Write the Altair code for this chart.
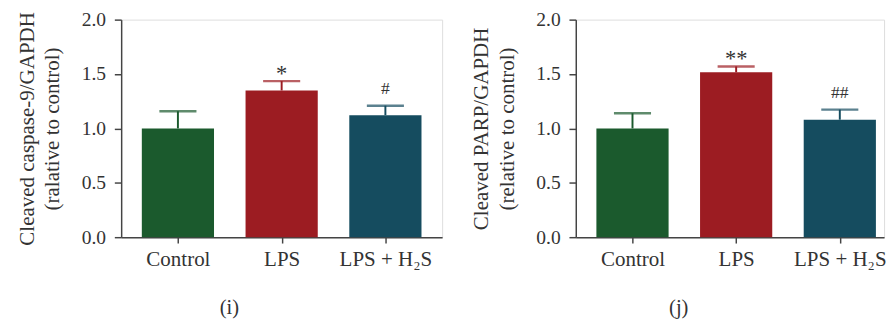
import json
import altair as alt
import pandas as pd

# ---- data ----
categories = ["Control", "LPS", "LPS + H₂S"]
bar_colors = ["#1b5a2d", "#9c1c22", "#154c5f"]

casp9_mean = [1.00, 1.349, 1.122]
casp9_err = [0.158, 0.086, 0.087]
casp9_sig = ["", "*", "#"]

parp_mean = [1.00, 1.516, 1.080]
parp_err = [0.140, 0.054, 0.093]
parp_sig = ["", "**", "##"]

y_ticks = [0.0, 0.5, 1.0, 1.5, 2.0]

FONT = "Liberation Serif"
TXT = "#333333"


def panel(means, errs, sigs, ytitle, caption, xmax, width):
    df = pd.DataFrame({
        "idx": list(range(len(categories))),
        "cat": categories,
        "mean": means,
        "upper": [m + e for m, e in zip(means, errs)],
        "sig": sigs,
    })
    label_expr = json.dumps(categories) + "[datum.value]"
    x = alt.X("idx:Q",
              scale=alt.Scale(domain=[-0.5, xmax], nice=False, zero=False),
              axis=alt.Axis(values=[0, 1, 2], labelExpr=label_expr, title=None,
                            grid=False, tickSize=6, labelPadding=6,
                            labelFontSize=21.5, labelFont=FONT, labelColor=TXT,
                            domainColor="#444", tickColor="#444",
                            domainWidth=1.5, tickWidth=1.5))
    y = alt.Y("mean:Q",
              scale=alt.Scale(domain=[0, 2], nice=False),
              axis=alt.Axis(values=y_ticks, format=".1f", title=ytitle,
                            grid=False, tickSize=7, labelPadding=9,
                            labelFontSize=20, labelFont=FONT, labelColor=TXT,
                            titleFont=FONT, titleFontSize=21.5, titleFontWeight="normal",
                            titleColor=TXT, titleLineHeight=26, titlePadding=18,
                            domainColor="#444", tickColor="#444",
                            domainWidth=1.5, tickWidth=1.5))
    color = alt.Color("cat:N", scale=alt.Scale(domain=categories, range=bar_colors),
                      legend=None)
    base = alt.Chart(df)
    bars = base.mark_bar(size=74, orient="vertical").encode(x=x, y=y, color=color)
    stems = base.mark_rule(strokeWidth=2).encode(
        x="idx:Q", y="mean:Q", y2="upper:Q", color=color)
    caps = base.mark_tick(orient="horizontal", size=38, thickness=2.5).encode(
        x="idx:Q", y="upper:Q", color=color)
    stars = base.transform_filter("indexof(datum.sig, '*') >= 0").mark_text(
        font=FONT, fontSize=23, color=TXT, baseline="middle", dy=-7).encode(
        x="idx:Q", y="upper:Q", text="sig:N")
    hashes = base.transform_filter("indexof(datum.sig, '#') >= 0").mark_text(
        font=FONT, fontSize=18, color=TXT, baseline="middle", dy=-17).encode(
        x="idx:Q", y="upper:Q", text="sig:N")
    return alt.layer(bars, stems, caps, stars, hashes).properties(
        width=width, height=223,
        title=alt.TitleParams(caption, orient="bottom", anchor="middle", frame="bounds",
                              font=FONT, fontSize=21, fontWeight="normal",
                              color=TXT, offset=28))


left = panel(casp9_mean, casp9_err, casp9_sig,
             ["Cleaved caspase-9/GAPDH", "(ralative to control)"], "(i)", 2.5, 329)
right = panel(parp_mean, parp_err, parp_sig,
              ["Cleaved PARP/GAPDH", "(relative to control)"], "(j)", 2.38, 316)

chart = alt.hconcat(left, right, spacing=28).properties(
    padding={"left": 8, "top": -3, "right": 0, "bottom": 0}
).configure_view(stroke=None).configure(background="white")

chart.save("out.html", embed_options={"renderer": "svg", "actions": False})
